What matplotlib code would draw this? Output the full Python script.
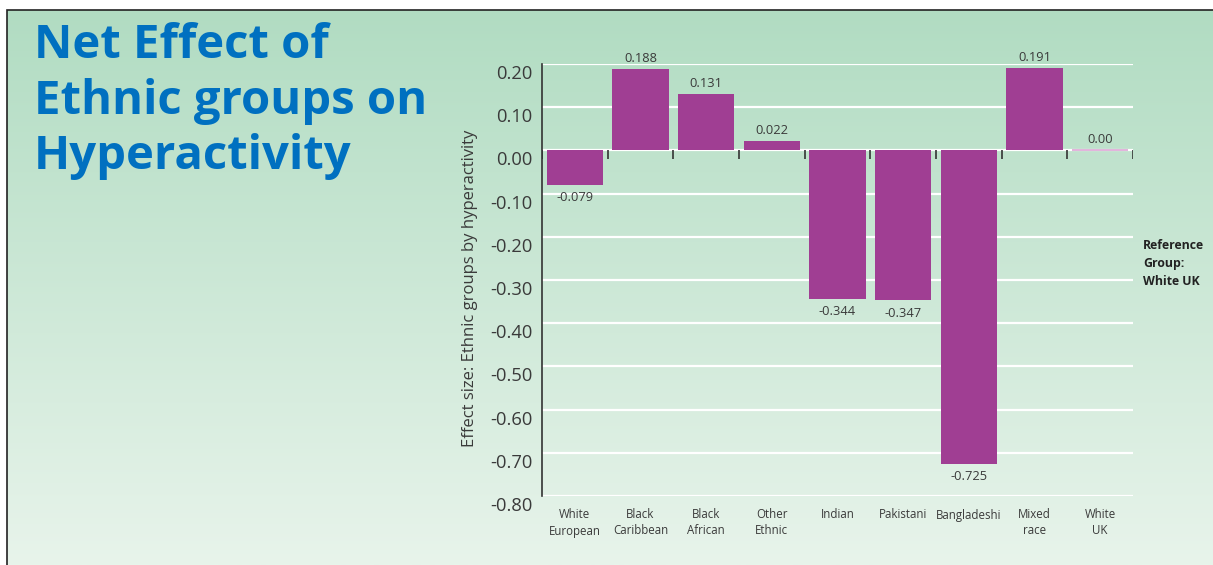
import numpy as np
import matplotlib
matplotlib.use("Agg")
import matplotlib.pyplot as plt
import matplotlib.transforms as mtrans
from matplotlib.colors import LinearSegmentedColormap
from matplotlib.patches import Rectangle

plt.rcParams['font.family'] = ['Open Sans', 'DejaVu Sans']

# data
groups = ["White\nEuropean", "Black\nCaribbean", "Black\nAfrican", "Other\nEthnic",
          "Indian", "Pakistani", "Bangladeshi", "Mixed\nrace", "White\nUK"]
effects = [-0.079, 0.188, 0.131, 0.022, -0.344, -0.347, -0.725, 0.191, 0.0]
value_labels = ["-0.079", "0.188", "0.131", "0.022", "-0.344", "-0.347", "-0.725", "0.191", "0.00"]
yticks = [0.2, 0.1, 0.0, -0.1, -0.2, -0.3, -0.4, -0.5, -0.6, -0.7, -0.8]

bar_color = "#a03e93"
text_color = "#3a3a3a"

fig = plt.figure(figsize=(12.13, 5.65), dpi=100)

# gradient background inside the frame
bg = fig.add_axes([7/1213, 0, 1 - 7/1213, 1 - 10/565], zorder=-10)
cmap = LinearSegmentedColormap.from_list("bg", ["#b1dcc2", "#e8f4eb"])
bg.imshow(np.linspace(0, 1, 256).reshape(-1, 1), aspect="auto", cmap=cmap,
          extent=[0, 1, 0, 1])
bg.set_axis_off()
fig.patches.append(Rectangle((7/1213, -0.01), 1.0, 1 - 10/565 + 0.01,
                             transform=fig.transFigure, fill=False,
                             edgecolor="#222222", linewidth=1.2, zorder=5))

# title
fig.text(34/1213, 1 - 22/565, "Net Effect of\nEthnic groups on\nHyperactivity",
         color="#0070c0", fontsize=34, fontweight="bold", va="top", ha="left",
         linespacing=1.24)

fig.text(1143/1213, 1 - 239/565, "Reference\nGroup:\nWhite UK", color="#222222",
         fontsize=8.8, fontweight="bold", va="top", ha="left", linespacing=1.5)

ax = fig.add_axes([542/1213, 1 - 496/565, (1133 - 542)/1213, (496 - 64)/565])
ax.patch.set_alpha(0)
x = np.arange(len(groups))
ax.bar(x, effects, width=0.86, color=bar_color, zorder=3)
# reference group sits at zero: thin line
ax.hlines(0, x[-1] - 0.43, x[-1] + 0.43, color="#e2b5dc", linewidth=1.5, zorder=4)

ax.set_xlim(-0.5, len(groups) - 0.5)
ax.set_ylim(-0.8, 0.2)
ax.set_yticks(yticks)
ax.set_yticklabels([f"{t:.2f}" for t in yticks], fontsize=13.2, color=text_color)
ax.tick_params(axis="y", length=0, pad=7)
# labels sit a little below their gridlines in the original
shift = mtrans.ScaledTranslation(0, -8/100, fig.dpi_scale_trans)
for lab in ax.get_yticklabels():
    lab.set_transform(lab.get_transform() + shift)
ax.set_xticks(x)
ax.set_xticklabels(groups, fontsize=8.3, color=text_color, linespacing=1.3)
ax.tick_params(axis="x", length=0, pad=9)
ax.grid(axis="y", color="white", linewidth=1.6, zorder=0)
for s in ["top", "right", "bottom"]:
    ax.spines[s].set_visible(False)
ax.spines["left"].set_color("#333333")
ax.spines["left"].set_linewidth(1.2)

# small ticks at category boundaries along the zero line
bounds = np.arange(len(groups) + 1) - 0.5
ax.vlines(bounds, 0, -0.02, color="#333333", linewidth=1.2, zorder=4)

ax.set_ylabel("Effect size: Ethnic groups by hyperactivity", fontsize=12,
              color=text_color)
ax.yaxis.set_label_coords(-0.108, 0.48)

for xi, v, lab in zip(x, effects, value_labels):
    if v >= 0:
        ax.annotate(lab, (xi, v), xytext=(0, 3), textcoords="offset points",
                    ha="center", va="bottom", fontsize=9.3, color=text_color)
    else:
        ax.annotate(lab, (xi, v), xytext=(0, -4.5), textcoords="offset points",
                    ha="center", va="top", fontsize=9.3, color=text_color)

fig.savefig("out.png", dpi=100)
